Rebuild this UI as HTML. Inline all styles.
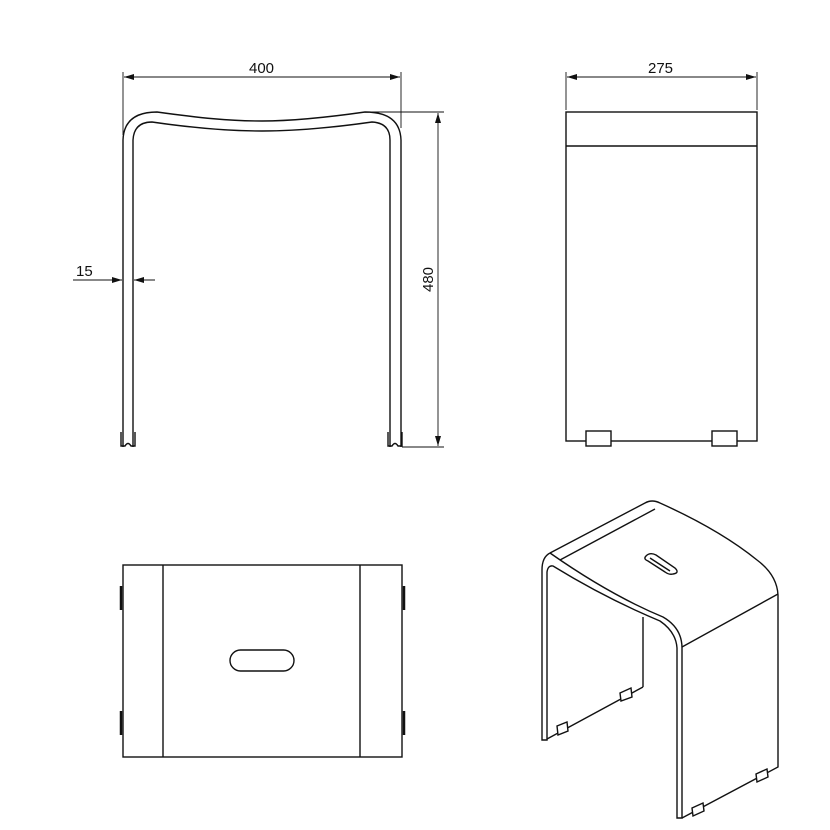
<!DOCTYPE html>
<html><head><meta charset="utf-8"><style>html,body{margin:0;padding:0;background:#fff}svg{display:block}</style></head>
<body>
<svg width="830" height="830" viewBox="0 0 830 830" xmlns="http://www.w3.org/2000/svg" fill="none" stroke="#111" stroke-width="1.4" font-family="Liberation Sans, sans-serif">
<defs><marker id="a" viewBox="0 0 10 6" refX="10" refY="3" markerWidth="10" markerHeight="6" orient="auto-start-reverse" markerUnits="userSpaceOnUse"><path d="M0,0 L10,3 L0,6 z" fill="#111" stroke="none"/></marker></defs>
<g stroke-width="0.9">
<line x1="123" y1="72" x2="123" y2="135"/><line x1="401" y1="72" x2="401" y2="128"/>
<line x1="124" y1="77" x2="400" y2="77" marker-start="url(#a)" marker-end="url(#a)"/>
<line x1="368" y1="112" x2="444" y2="112"/><line x1="402" y1="447" x2="444" y2="447"/>
<line x1="438" y1="113" x2="438" y2="446" marker-start="url(#a)" marker-end="url(#a)"/>
<line x1="73" y1="280" x2="122" y2="280" marker-end="url(#a)"/>
<line x1="155" y1="280" x2="134" y2="280" marker-end="url(#a)"/>
</g>
<g fill="#111" stroke="none" font-size="15">
<text x="249" y="73">400</text>
<text x="76" y="276">15</text>
<text transform="translate(433,292) rotate(-90)">480</text>
<text x="648" y="73">275</text>
</g>
<path d="M123,447 L123,140 Q124,112 157,112 C200,118 230,121 262,121 C294,121 330,117 365,112 Q400,112 401,140 L401,447"/>
<path d="M133,447 L133,140 Q134,122 152,122 C200,129 232,131 262,131 C294,131 330,128 372,122 Q390,123 390,140 L390,447"/>
<path d="M121,432 L121,446 L125,446 Q128,441 131,446 L135,446 L135,432"/>
<path d="M388,432 L388,446 L392,446 Q395,441 398,446 L402,446 L402,432"/>
<g stroke-width="0.9"><line x1="566" y1="72" x2="566" y2="110"/><line x1="757" y1="72" x2="757" y2="110"/>
<line x1="567" y1="77" x2="756" y2="77" marker-start="url(#a)" marker-end="url(#a)"/></g>
<rect x="566" y="112" width="191" height="329"/>
<line x1="566" y1="146" x2="757" y2="146"/>
<rect x="586" y="431" width="25" height="15" fill="#fff"/>
<rect x="712" y="431" width="25" height="15" fill="#fff"/>
<rect x="123" y="565" width="279" height="192"/>
<line x1="163" y1="565" x2="163" y2="757"/><line x1="360" y1="565" x2="360" y2="757"/>
<rect x="230" y="650" width="64" height="21" rx="10.5"/>
<g stroke-width="2.5"><line x1="121" y1="586" x2="121" y2="610"/><line x1="121" y1="711" x2="121" y2="735"/>
<line x1="404" y1="586" x2="404" y2="610"/><line x1="404" y1="711" x2="404" y2="735"/></g>
<path d="M550,553 L645,503 Q652,499 660,503 Q720,530 757,560 Q777,575 778,595 L778,767 L682,818"/>
<path d="M550,553 Q610,595 663,617 Q682,628 682,648 L682,818 L677,818 L677,648 Q676,632 660,621 Q605,598 553,566 Q548,565 547,572 L547,740 L542,740 L542,570 Q542,557 550,553"/>
<line x1="560" y1="560" x2="655" y2="509"/>
<line x1="682" y1="647" x2="778" y2="594"/>
<line x1="643" y1="617" x2="643" y2="687"/>
<line x1="643" y1="687" x2="547" y2="739"/>
<path d="M646,556 Q650,552 656,555 L675,568 Q680,573 673,574 Q669,575 665,572 L648,561 Q643,559 646,556 Z"/>
<path d="M650,558 L670,571"/>
<g fill="#fff">
<path d="M557,726 L567,722 L568,731 L558,735 Z"/>
<path d="M620,693 L631,688 L632,697 L621,701 Z"/>
<path d="M692,808 L703,803 L704,811 L693,816 Z"/>
<path d="M756,774 L767,769 L768,777 L757,782 Z"/>
</g>
</svg>
</body></html>
